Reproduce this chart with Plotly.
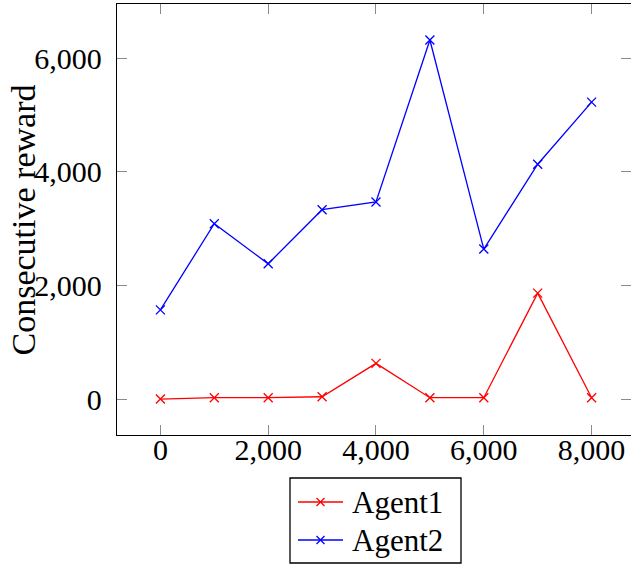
import plotly.graph_objects as go

# Training steps and consecutive reward for each agent
steps = [0, 1000, 2000, 3000, 4000, 5000, 6000, 7000, 8000]
agent1_reward = [0, 24, 24, 41, 629, 24, 24, 1864, 24]
agent2_reward = [1570, 3086, 2381, 3333, 3469, 6319, 2640, 4133, 5226]

series_names = ["Agent1", "Agent2"]
series_colors = ["#ff0000", "#0000ff"]

x_ticks = [0, 2000, 4000, 6000, 8000]
y_ticks = [0, 2000, 4000, 6000]

FONT = "Liberation Serif"
W, H = 631, 564
M_L, M_R, M_T, M_B = 117, 0, 4, 129
PLOT_W = W - M_L - M_R
PLOT_H = H - M_T - M_B


def px_to_paper(px, py):
    """Convert a page pixel position to paper coordinates."""
    return (px - M_L) / PLOT_W, (H - M_B - py) / PLOT_H


fig = go.Figure()
for name, color, values in zip(series_names, series_colors, [agent1_reward, agent2_reward]):
    fig.add_trace(go.Scatter(
        x=steps, y=values, name=name, mode="lines+markers",
        line=dict(color=color, width=1.3),
        marker=dict(symbol="x-thin", size=9, line=dict(color=color, width=1.3)),
    ))

axis_common = dict(
    showline=True, linecolor="#000000", linewidth=1.3, mirror="allticks",
    ticks="inside", ticklen=10, tickwidth=1, tickcolor="#8a8a8a",
    showgrid=False, zeroline=False,
    tickfont=dict(family=FONT, size=30, color="#000000"),
    separatethousands=True, tickformat=",d",
)

fig.update_xaxes(range=[-805, 8731], tickvals=x_ticks, ticklabelstandoff=-12, **axis_common)
fig.update_yaxes(range=[-632, 6952], tickvals=y_ticks, ticklabelstandoff=8, **axis_common)

fig.add_annotation(
    text="Consecutive reward", textangle=-90,
    xref="paper", yref="paper", x=-0.181, y=0.5,
    xanchor="center", yanchor="middle", showarrow=False,
    font=dict(family=FONT, size=34, color="#000000"),
)

# Boxed legend centred below the axes
box_x0, box_y0 = px_to_paper(290, 478)
box_x1, box_y1 = px_to_paper(461, 563)
fig.add_shape(type="rect", xref="paper", yref="paper",
              x0=box_x0, y0=box_y1, x1=box_x1, y1=box_y0,
              line=dict(color="#000000", width=1.3), fillcolor="#ffffff",
              layer="above")
for i, (name, color) in enumerate(zip(series_names, series_colors)):
    row_y = 502 + 38 * i
    lx0, ly = px_to_paper(298, row_y)
    lx1, _ = px_to_paper(343, row_y)
    mx, _ = px_to_paper(320.5, row_y)
    fig.add_shape(type="line", xref="paper", yref="paper",
                  x0=lx0, y0=ly, x1=lx1, y1=ly,
                  line=dict(color=color, width=1.3), layer="above")
    fig.add_shape(type="path", xref="paper", yref="paper",
                  xsizemode="pixel", ysizemode="pixel", xanchor=mx, yanchor=ly,
                  path="M -4,-4 L 4,4 M -4,4 L 4,-4",
                  line=dict(color=color, width=1.3), layer="above")
    tx, ty = px_to_paper(350, row_y)
    fig.add_annotation(
        text=name, xref="paper", yref="paper", x=tx, y=ty,
        xanchor="left", yanchor="middle", showarrow=False,
        font=dict(family=FONT, size=31, color="#000000"),
    )

fig.update_layout(
    width=W, height=H,
    margin=dict(l=M_L, r=M_R, t=M_T, b=M_B, autoexpand=False),
    plot_bgcolor="#ffffff", paper_bgcolor="#ffffff",
    showlegend=False,
)

fig.write_html("out.html")
